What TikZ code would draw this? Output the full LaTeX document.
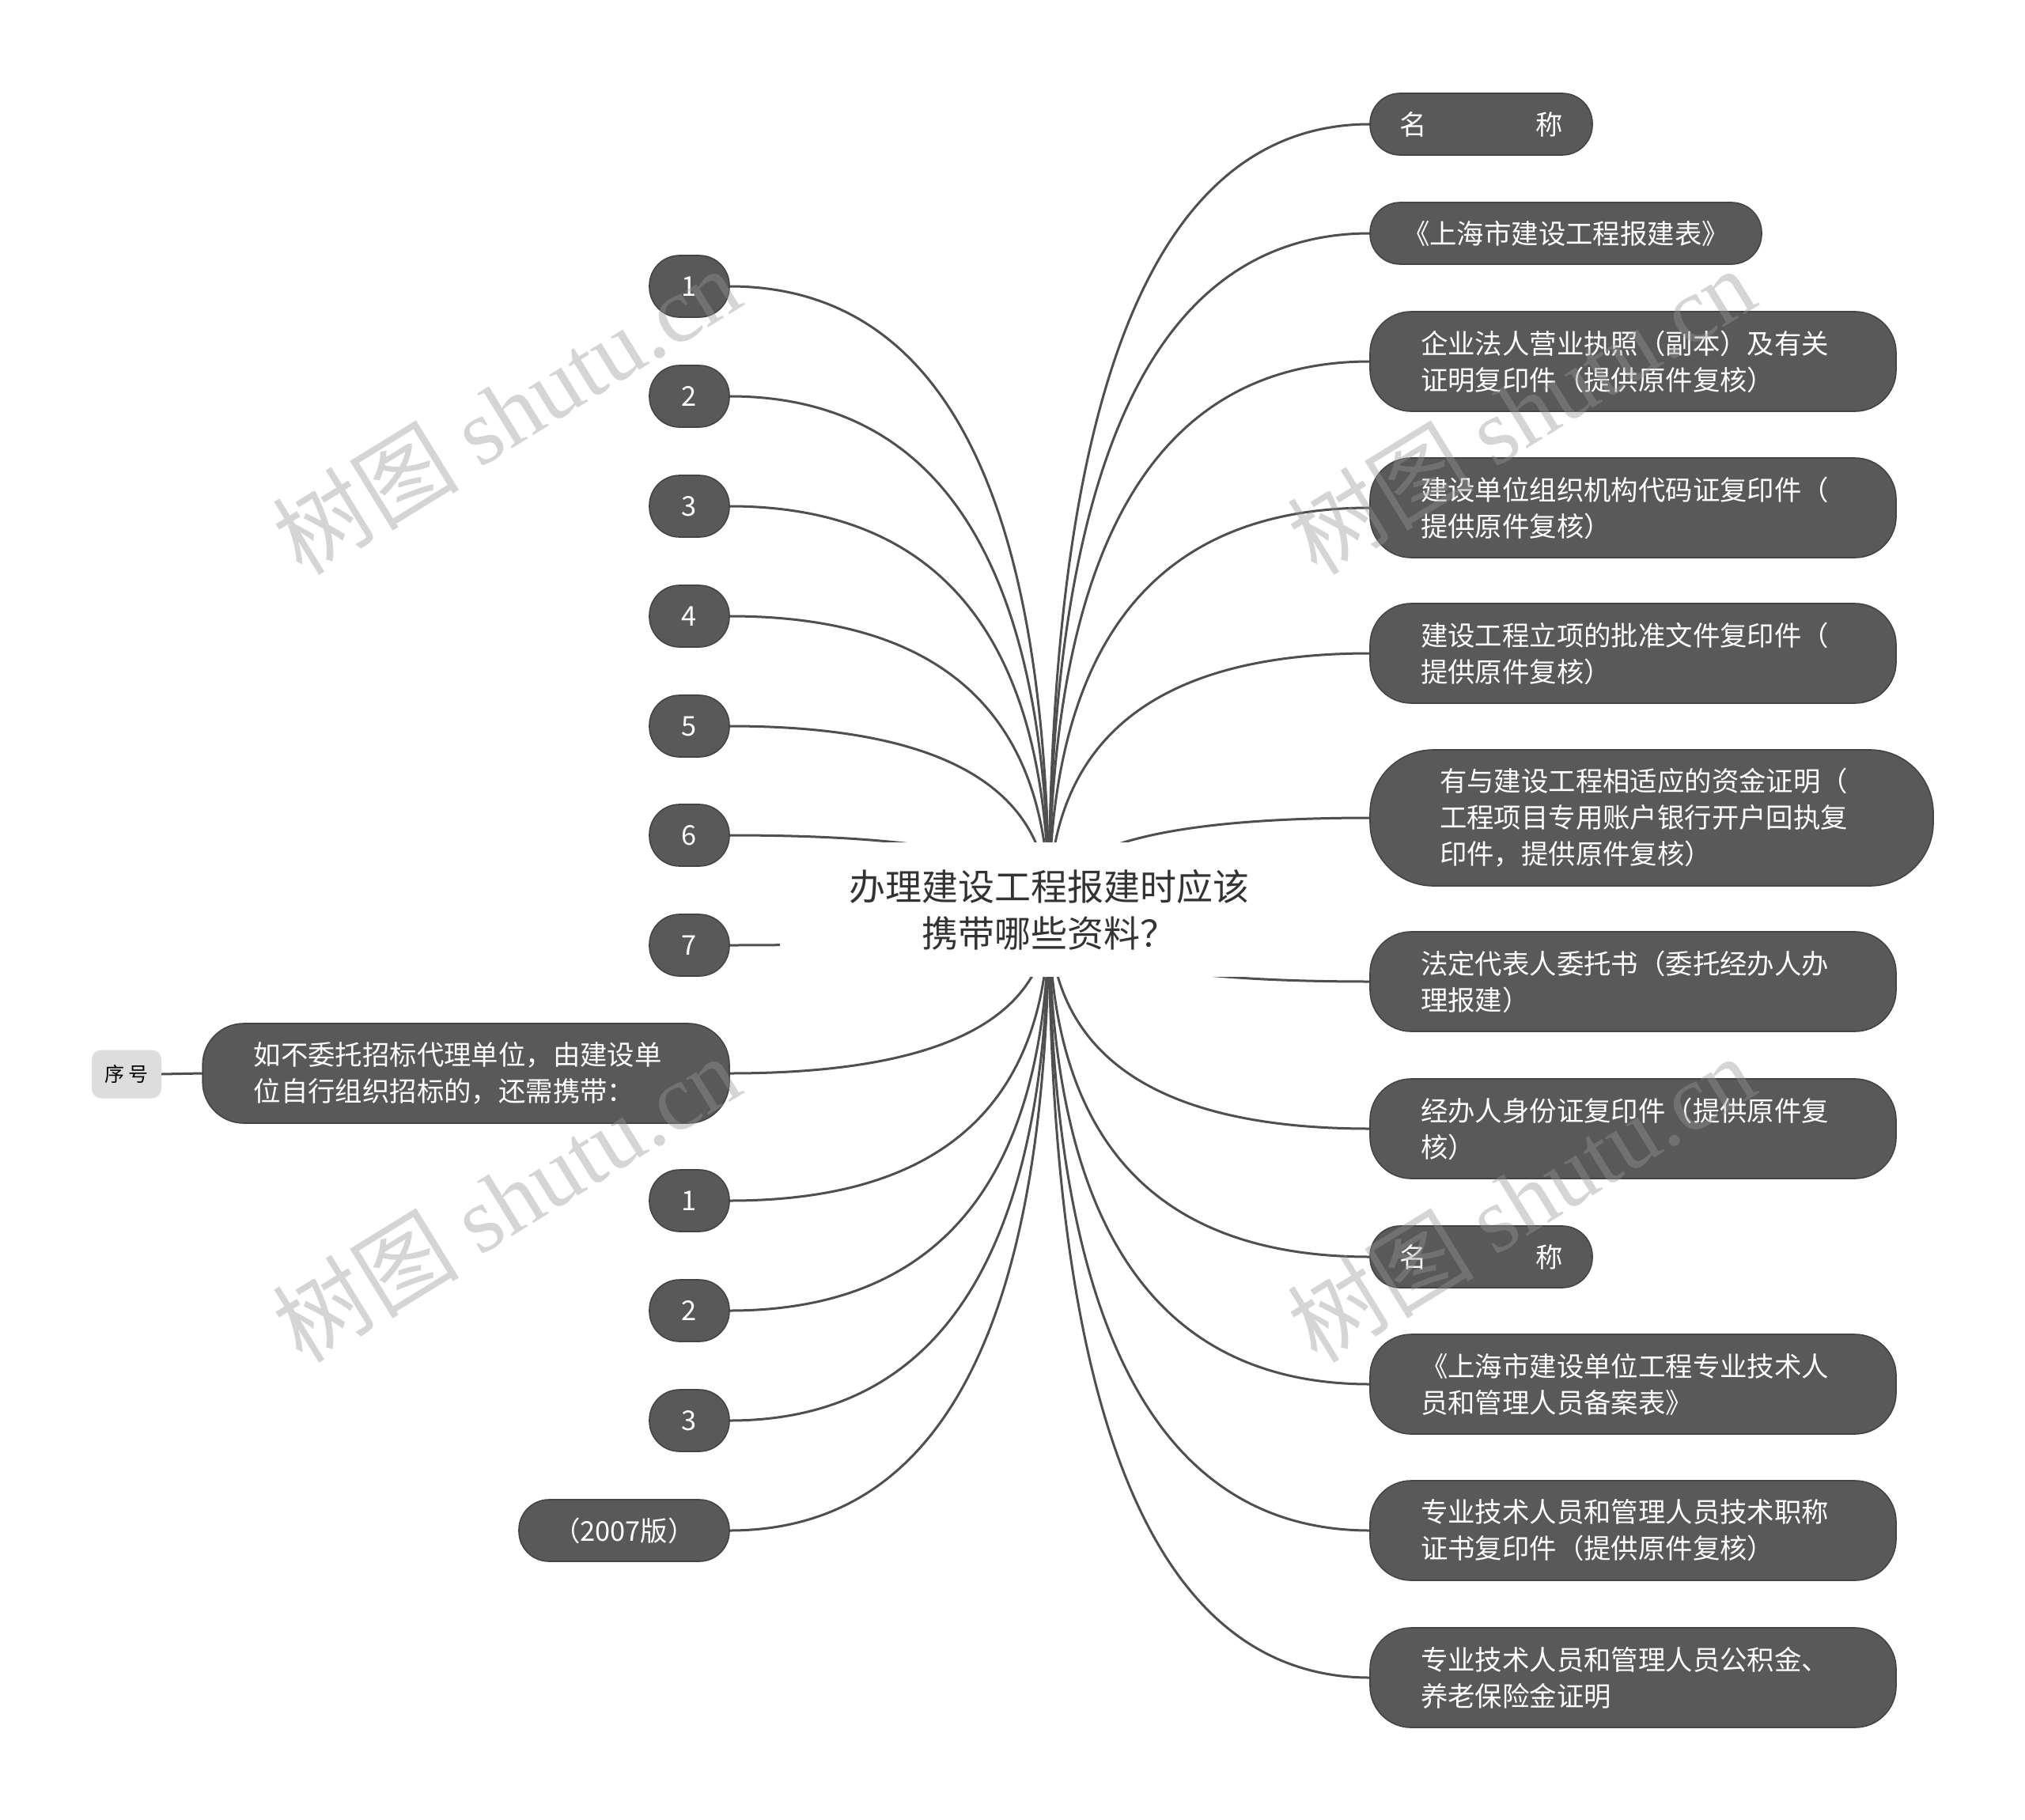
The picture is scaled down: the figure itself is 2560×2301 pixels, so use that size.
\documentclass[tikz,border=0pt]{standalone}
\usepackage{fontspec}
\setmainfont{Noto Sans CJK SC}
\newfontfamily\wmserif{Liberation Serif}
\usetikzlibrary{backgrounds,calc}
\definecolor{boxfill}{HTML}{595959}
\definecolor{boxline}{HTML}{444444}
\definecolor{connc}{HTML}{4F4F4F}
\definecolor{ctext}{HTML}{333333}
\definecolor{tagfill}{HTML}{DDDDDD}
\definecolor{wmc}{HTML}{969696}
\begin{document}
\begin{tikzpicture}[x=0.25pt,y=-0.25pt,
  every node/.style={inner sep=0pt, outer sep=0pt},
  topic/.style={fill=boxfill, draw=boxline, line width=0.4pt, text=white, font=\fontsize{8.6pt}{11.5pt}\selectfont},
  one/.style={topic, rounded corners=9.5pt, minimum height=19.5pt, align=center},
  two/.style={topic, rounded corners=13pt, minimum height=31.5pt, text width=134.25pt, inner xsep=16pt, align=left},
  three/.style={topic, rounded corners=20pt, minimum height=43pt, text width=134pt, inner xsep=22pt, align=left},
  num/.style={one, minimum width=25.25pt},
  link/.style={draw=connc, line width=0.75pt},
  wmark/.style={text=wmc, text opacity=0.4, rotate=31.6, font=\fontsize{29.5pt}{29.5pt}\selectfont}
]
\useasboundingbox (0,0) rectangle (2560,2301);

% central topic
\node[fill=white, minimum width=170pt, minimum height=42.5pt, align=center, text=ctext,
      font=\fontsize{11.5pt}{14.75pt}\selectfont] (c) at (1326,1150) {办理建设工程报建时应该\\携带哪些资料？};

% right topics
\node[one, minimum width=70.25pt, anchor=west] (R1) at (1732,157) {名　　　　称};
\node[one, minimum width=123.75pt, anchor=west] (R2) at (1732,295) {《上海市建设工程报建表》};
\node[two, anchor=west] (R3) at (1732,457) {企业法人营业执照（副本）及有关\\证明复印件（提供原件复核）};
\node[two, anchor=west] (R4) at (1732,642) {建设单位组织机构代码证复印件（\\提供原件复核）};
\node[two, anchor=west] (R5) at (1732,826) {建设工程立项的批准文件复印件（\\提供原件复核）};
\node[three, anchor=west] (R6) at (1732,1034) {有与建设工程相适应的资金证明（\\工程项目专用账户银行开户回执复\\印件，提供原件复核）};
\node[two, anchor=west] (R7) at (1732,1241) {法定代表人委托书（委托经办人办\\理报建）};
\node[two, anchor=west] (R8) at (1732,1427) {经办人身份证复印件（提供原件复\\核）};
\node[one, minimum width=70.25pt, anchor=west] (R9) at (1732,1589) {名　　　　称};
\node[two, anchor=west] (R10) at (1732,1750) {《上海市建设单位工程专业技术人\\员和管理人员备案表》};
\node[two, anchor=west] (R11) at (1732,1935) {专业技术人员和管理人员技术职称\\证书复印件（提供原件复核）};
\node[two, anchor=west] (R12) at (1732,2121) {专业技术人员和管理人员公积金、\\养老保险金证明};

% left topics
\node[num, anchor=east] (L1) at (922,362) {1};
\node[num, anchor=east] (L2) at (922,501) {2};
\node[num, anchor=east] (L3) at (922,640) {3};
\node[num, anchor=east] (L4) at (922,779) {4};
\node[num, anchor=east] (L5) at (922,918) {5};
\node[num, anchor=east] (L6) at (922,1056) {6};
\node[num, anchor=east] (L7) at (922,1195) {7};
\node[two, inner xsep=16.1pt, anchor=east] (L8) at (922,1357) {如不委托招标代理单位，由建设单\\位自行组织招标的，还需携带：};
\node[num, anchor=east] (L9) at (922,1518) {1};
\node[num, anchor=east] (L10) at (922,1657) {2};
\node[num, anchor=east] (L11) at (922,1796) {3};
\node[one, minimum width=66.5pt, anchor=east] (L12) at (922,1935) {（2007版）};

% label tag
\node[fill=tagfill, rounded corners=3pt, minimum width=22pt, minimum height=15.25pt,
      text=black, font=\fontsize{6.25pt}{7pt}\selectfont] (tag) at (160,1358) {序 号};

\begin{scope}[on background layer]
  \fill[white] (0,0) rectangle (2560,2301);
  % quadratic curves (as cubic) from the centre, corner at (centre x, target y)
  \foreach \n in {R1,R2,R3,R4,R5,R6,R7,R8,R9,R10,R11,R12}
    \draw[link] (c.center) .. controls ($(c.center)!0.6667!(c.center |- \n.west)$)
      and ($(\n.west)!0.6667!(c.center |- \n.west)$) .. (\n.west);
  \foreach \n in {L1,L2,L3,L4,L5,L6,L7,L8,L9,L10,L11,L12}
    \draw[link] (c.center) .. controls ($(c.center)!0.6667!(c.center |- \n.east)$)
      and ($(\n.east)!0.6667!(c.center |- \n.east)$) .. (\n.east);
  \draw[link] (tag.east) -- (L8.west);
\end{scope}

% watermarks
\node[wmark] (w1) at (640,519) {树图 {\wmserif shutu.cn}};
\node[wmark] (w2) at (640,1515) {树图 {\wmserif shutu.cn}};
\node[wmark] (w3) at (1923,519) {树图 {\wmserif shutu.cn}};
\node[wmark] (w4) at (1923,1515) {树图 {\wmserif shutu.cn}};
\end{tikzpicture}
\end{document}
